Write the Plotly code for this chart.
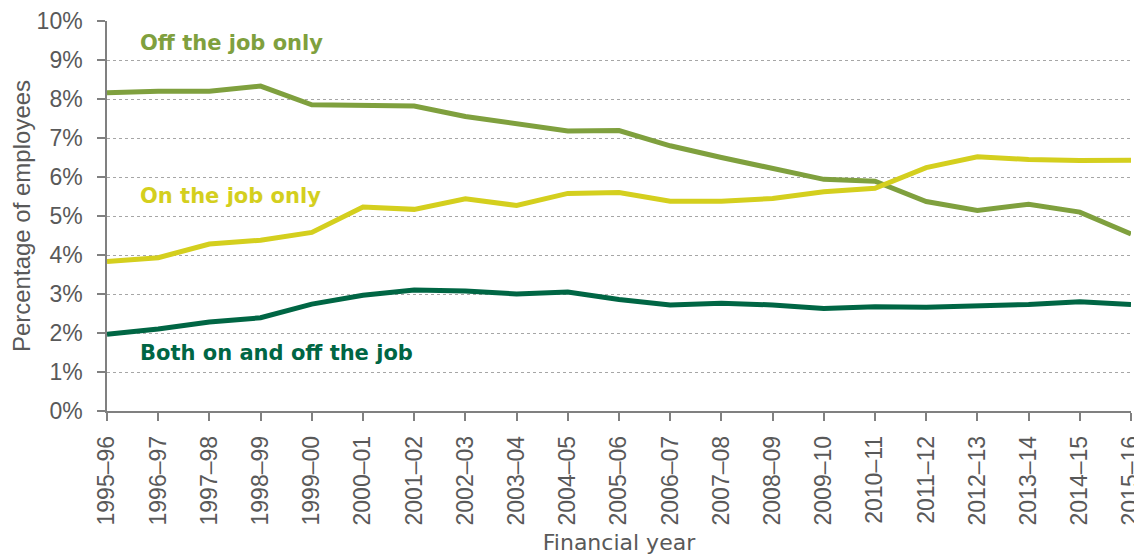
import plotly.graph_objects as go

years = ["1995–96", "1996–97", "1997–98", "1998–99", "1999–00", "2000–01", "2001–02",
         "2002–03", "2003–04", "2004–05", "2005–06", "2006–07", "2007–08", "2008–09",
         "2009–10", "2010–11", "2011–12", "2012–13", "2013–14", "2014–15", "2015–16"]

off_job = [8.16, 8.2, 8.2, 8.33, 7.85, 7.82, 7.82, 7.55, 7.38, 7.18, 7.19, 6.8, 6.5,
           6.21, 5.94, 5.89, 5.37, 5.14, 5.3, 5.1, 4.54]
on_job = [3.83, 3.93, 4.28, 4.38, 4.58, 5.23, 5.17, 5.44, 5.27, 5.58, 5.6, 5.38, 5.38,
          5.45, 5.62, 5.71, 6.24, 6.52, 6.45, 6.42, 6.43]
both = [1.97, 2.1, 2.28, 2.39, 2.74, 2.97, 3.1, 3.08, 3.0, 3.05, 2.86, 2.72, 2.76,
        2.72, 2.63, 2.67, 2.66, 2.68, 2.73, 2.8, 2.73]

series_names = ["Off the job only", "On the job only", "Both on and off the job"]
colors = ["#7FA03E", "#D4CF1E", "#006644"]
label_y = [9.43, 5.52, 1.48]

x_idx = list(range(len(years)))

fig = go.Figure()
for name, vals, col in zip(series_names, [off_job, on_job, both], colors):
    fig.add_trace(go.Scatter(x=x_idx, y=vals, mode="lines", name=name,
                             line=dict(color=col, width=5), showlegend=False))

for name, col, ly in zip(series_names, colors, label_y):
    fig.add_annotation(x=0.6, y=ly, xref="x", yref="y", text="<b>" + name + "</b>",
                       showarrow=False, xanchor="left", yanchor="middle",
                       font=dict(family="DejaVu Sans", size=21, color=col))

# page body has an 8px default margin, so the figure is sized to fit the window
fig.update_layout(
    width=1134, height=548,
    margin=dict(l=99, r=11, t=13, b=145),
    plot_bgcolor="white", paper_bgcolor="white",
    font=dict(family="Liberation Sans", color="#595959"),
)
fig.update_xaxes(
    range=[0, 20], tickmode="array", tickvals=x_idx, ticktext=years,
    tickangle=-90, tickfont=dict(size=23, family="Liberation Sans", color="#595959"),
    showgrid=False, showline=True, linecolor="#808080", linewidth=1.5,
    ticks="outside", ticklen=8, tickcolor="#808080", tickwidth=1.5,
    ticklabelstandoff=6,
    title=dict(text="Financial year", font=dict(family="DejaVu Sans", size=22, color="#595959"),
               standoff=10),
    zeroline=False, automargin=False, ticklabeloverflow="allow",
)
fig.update_yaxes(
    range=[0, 10], tickmode="array", tickvals=list(range(0, 11)),
    ticktext=[f"{v}%" for v in range(0, 11)],
    tickfont=dict(size=23, family="Liberation Sans", color="#595959"),
    showgrid=True, gridcolor="#A6A6A6", griddash="dot", gridwidth=1.2,
    showline=True, linecolor="#808080", linewidth=1.5,
    ticks="outside", ticklen=8, tickcolor="#808080", tickwidth=1.5,
    ticklabelstandoff=10,
    title=dict(text="Percentage of employees", font=dict(family="Liberation Sans", size=24, color="#595959"),
               standoff=3),
    zeroline=False, automargin=False, ticklabeloverflow="allow",
)

fig.write_html("out.html")
